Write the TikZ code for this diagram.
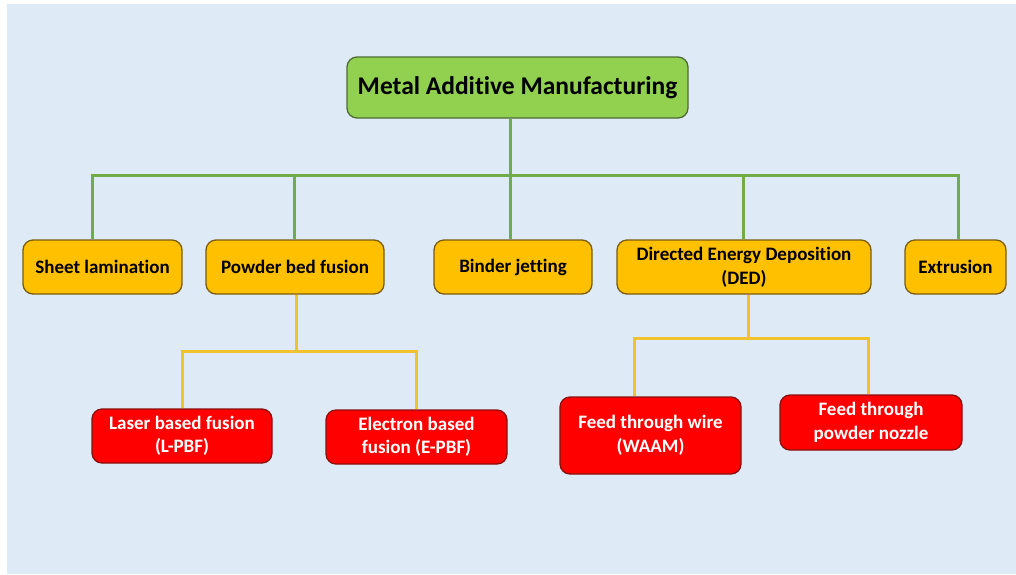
\documentclass[tikz,border=0pt]{standalone}
\usepackage{fontspec}
\setmainfont[Ligatures=CommonOff]{Carlito}
\pgfdeclarelayer{back}
\pgfdeclarelayer{lines}
\pgfsetlayers{back,lines,main}
\definecolor{bgblue}{HTML}{DEEAF6}
\definecolor{boxgreen}{HTML}{92D050}
\definecolor{boxorange}{HTML}{FFC000}
\definecolor{boxred}{HTML}{FF0000}
\definecolor{linegreen}{HTML}{70AD47}
\definecolor{lineyellow}{HTML}{F2C12E}
\definecolor{bordergreen}{HTML}{4E6B35}
\definecolor{borderorange}{HTML}{7A5C12}
\definecolor{borderred}{HTML}{8A1010}
\begin{document}
\begin{tikzpicture}[x=1pt,y=-1pt,
  base/.style={rounded corners=10pt, line width=1.3pt, inner sep=0pt, align=center, font=\bfseries\fontsize{19}{24}\selectfont},
  mainbox/.style={base, fill=boxgreen, draw=bordergreen, text=black, font=\bfseries\fontsize{25.5}{28}\selectfont},
  catbox/.style={base, fill=boxorange, draw=borderorange, text=black},
  subbox/.style={base, fill=boxred, draw=borderred, text=white, font=\bfseries\fontsize{19}{23.5}\selectfont},
  gline/.style={draw=linegreen, line width=3pt},
  yline/.style={draw=lineyellow, line width=3pt}]
\begin{pgfonlayer}{back}
\fill[white] (0,0) rectangle (1016,574);
\fill[bgblue] (7,4) rectangle (1016,574);
\end{pgfonlayer}
\useasboundingbox (0,0) rectangle (1016,574);

% nodes
\node[mainbox, minimum width=341pt, minimum height=61pt] (main) at (517.5,87.5) {Metal Additive Manufacturing};

\node[catbox, minimum width=159pt, minimum height=54pt] (sheet) at (102.5,267) {Sheet lamination};
\node[catbox, minimum width=178pt, minimum height=54pt] (pbf) at (295,267) {Powder bed fusion};
\node[catbox, minimum width=158pt, minimum height=54pt] (binder) at (513,267) {Binder jetting};
\node[catbox, minimum width=254pt, minimum height=54pt] (ded) at (744,267) {Directed Energy Deposition\\(DED)};
\node[catbox, minimum width=101pt, minimum height=54pt] (extr) at (955.5,267) {Extrusion};

\node[subbox, minimum width=180pt, minimum height=54pt] (laser) at (182,436) {Laser based fusion\\(L-PBF)};
\node[subbox, minimum width=181pt, minimum height=54pt] (electron) at (416.5,437) {Electron based\\fusion (E-PBF)};
\node[subbox, minimum width=181pt, minimum height=77pt] (wire) at (650.5,435.5) {Feed through wire\\(WAAM)};
\node[subbox, minimum width=182pt, minimum height=55pt] (nozzle) at (871,422.5) {Feed through\\powder nozzle};

\begin{pgfonlayer}{lines}
% green connectors
\coordinate (gbus) at (510,175);
\draw[gline] ([xshift=-7.5pt]main.south) -- (gbus);
\draw[gline] ([xshift=-10.5pt]sheet.north) |- (gbus) -| ([xshift=3pt]extr.north);
\draw[gline] ([xshift=-1pt]pbf.north) -- ([xshift=-1pt]pbf.north |- gbus);
\draw[gline] ([xshift=-3pt]binder.north) -- (gbus);
\draw[gline] ([xshift=-1pt]ded.north) -- ([xshift=-1pt]ded.north |- gbus);

% yellow connectors (PBF)
\coordinate (ybus1) at (296,351);
\draw[yline] ([xshift=1pt]pbf.south) -- (ybus1);
\draw[yline] (laser.north) |- (ybus1) -| (electron.north);

% yellow connectors (DED)
\coordinate (ybus2) at (748,338);
\draw[yline] ([xshift=4pt]ded.south) -- (ybus2);
\draw[yline] ([xshift=-16.5pt]wire.north) |- (ybus2) -| ([xshift=-3pt]nozzle.north);
\end{pgfonlayer}
\end{tikzpicture}
\end{document}
